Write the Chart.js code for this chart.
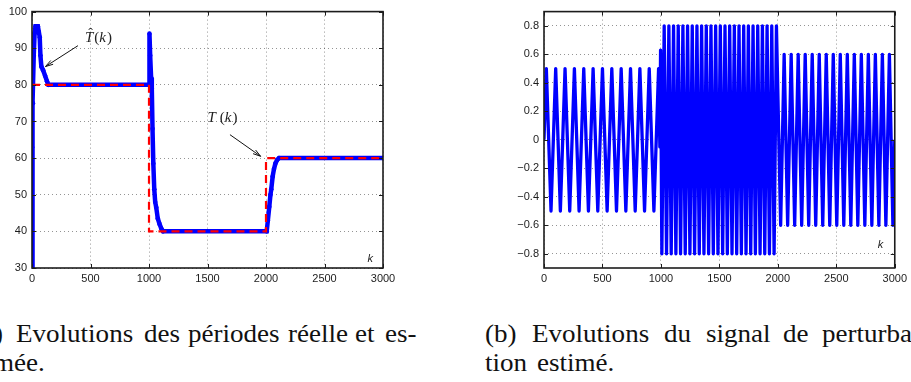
<!DOCTYPE html>
<html><head><meta charset="utf-8">
<script src="https://cdn.jsdelivr.net/npm/chart.js@4.4.1/dist/chart.umd.min.js"></script>
<style>
html,body{margin:0;padding:0;background:#fff;}
#page{position:relative;width:911px;height:382px;overflow:hidden;background:#fff;}
canvas{position:absolute;top:0;}
#ca{left:0;} #cb{left:500px;}
.w{position:absolute;font-family:"Liberation Serif","Times New Roman",serif;font-size:26px;line-height:26px;color:#111;white-space:nowrap;transform:scaleX(1.04);transform-origin:0 0;}
</style></head><body>
<div id="page">
<canvas id="ca" width="400" height="290"></canvas>
<canvas id="cb" width="411" height="290"></canvas>
</div>
<script>
// ---------------- data ----------------
const kTicks = [0, 500, 1000, 1500, 2000, 2500, 3000];
const periodTicks = [30, 40, 50, 60, 70, 80, 90, 100];
const perturbTicks = [-0.8, -0.6, -0.4, -0.2, 0, 0.2, 0.4, 0.6, 0.8];

// real period T(k)
const realK = [0, 1000, 1000, 2000, 2000, 3000];
const realT = [80, 80, 40, 40, 60, 60];

// estimated period T^(k)
const estK = [0, 1, 8, 15, 22, 30, 50, 58, 66, 72, 80, 95, 112, 128, 140,
  1000, 1004, 1010, 1018, 1024, 1030, 1037, 1045, 1053, 1062, 1075, 1090, 1105, 1120,
  2006, 2016, 2028, 2038, 2045, 2057, 2068, 2080, 2095, 2112, 3000];
const estT = [30, 63, 75, 88, 94, 96, 96, 94.5, 93, 88, 85, 84, 82.5, 81, 80,
  80, 94, 88, 82, 79, 68, 58.5, 51.5, 48, 46.5, 43.5, 42, 40.8, 40,
  40, 43, 46.7, 50, 51.5, 55, 57, 58.5, 59.5, 60, 60];

// estimated disturbance signal: extrema
const distK1 = [0, 20, 60, 100, 140, 180, 220, 260, 300, 340, 380, 420, 460, 500, 540, 580, 620, 660, 700, 740, 780, 820, 860, 900, 940, 980, 991, 997];
const distV1 = [0, 0.5, -0.5, 0.5, -0.5, 0.5, -0.5, 0.5, -0.5, 0.5, -0.5, 0.5, -0.5, 0.5, -0.5, 0.5, -0.5, 0.5, -0.5, 0.5, -0.5, 0.5, -0.5, 0.5, -0.5, 0.5, -0.05, 0.63];
const distK2 = [1008, 1028, 1048, 1068, 1088, 1108, 1128, 1148, 1168, 1188, 1208, 1228, 1248, 1268, 1288, 1308, 1328, 1348, 1368, 1388, 1408, 1428, 1448, 1468, 1488, 1508, 1528, 1548, 1568, 1588, 1608, 1628, 1648, 1668, 1688, 1708, 1728, 1748, 1768, 1788, 1808, 1828, 1848, 1868, 1888, 1908, 1928, 1948, 1968, 1988];
const distV2 = [-0.8, 0.8, -0.8, 0.8, -0.8, 0.8, -0.8, 0.8, -0.8, 0.8, -0.8, 0.8, -0.8, 0.8, -0.8, 0.8, -0.8, 0.8, -0.8, 0.8, -0.8, 0.8, -0.8, 0.8, -0.8, 0.8, -0.8, 0.8, -0.8, 0.8, -0.8, 0.8, -0.8, 0.8, -0.8, 0.8, -0.8, 0.8, -0.8, 0.8, -0.8, 0.8, -0.8, 0.8, -0.8, 0.8, -0.8, 0.8, -0.8, 0.8];
const distK3 = [2024, 2054, 2084, 2114, 2144, 2174, 2204, 2234, 2264, 2294, 2324, 2354, 2384, 2414, 2444, 2474, 2504, 2534, 2564, 2594, 2624, 2654, 2684, 2714, 2744, 2774, 2804, 2834, 2864, 2894, 2924, 2954, 2984, 3000];
const distV3 = [-0.6, 0.6, -0.6, 0.6, -0.6, 0.6, -0.6, 0.6, -0.6, 0.6, -0.6, 0.6, -0.6, 0.6, -0.6, 0.6, -0.6, 0.6, -0.6, 0.6, -0.6, 0.6, -0.6, 0.6, -0.6, 0.6, -0.6, 0.6, -0.6, 0.6, -0.6, 0.6, -0.6, 0];

// ---------------- helpers ----------------
const zip = (ks, vs) => ks.map((k, i) => ({x: k, y: vs[i]}));
const INK = '#1c1c1c';

function makeDecor(cfg) {
  return {
    id: 'decor',
    afterDatasetsDraw(chart) {
      const ctx = chart.ctx, a = chart.chartArea, xs = chart.scales.x, ys = chart.scales.y;
      ctx.save();
      const seg = (x1, y1, x2, y2) => { ctx.beginPath(); ctx.moveTo(x1, y1); ctx.lineTo(x2, y2); ctx.stroke(); };
      // inside ticks
      ctx.strokeStyle = INK; ctx.lineWidth = 1;
      const L = 4;
      xs.ticks.forEach(t => { const p = Math.round(xs.getPixelForValue(t.value)) + 0.5;
        seg(p, a.bottom, p, a.bottom - L); seg(p, a.top, p, a.top + L); });
      ys.ticks.forEach(t => { const p = Math.round(ys.getPixelForValue(t.value)) + 0.5;
        seg(a.left, p, a.left + L, p); seg(a.right, p, a.right - L, p); });
      // box
      ctx.lineWidth = 1.6;
      ctx.strokeRect(a.left, a.top, a.right - a.left, a.bottom - a.top);
      // arrows
      ctx.lineWidth = 1; ctx.strokeStyle = '#111';
      (cfg.arrows || []).forEach(ar => {
        const x1 = xs.getPixelForValue(ar.from[0]), y1 = ys.getPixelForValue(ar.from[1]);
        const x2 = xs.getPixelForValue(ar.to[0]), y2 = ys.getPixelForValue(ar.to[1]);
        seg(x1, y1, x2, y2);
        const ang = Math.atan2(y2 - y1, x2 - x1), h = 8, s = 0.28;
        ctx.beginPath();
        ctx.moveTo(x2 - h * Math.cos(ang - s), y2 - h * Math.sin(ang - s));
        ctx.lineTo(x2, y2);
        ctx.lineTo(x2 - h * Math.cos(ang + s), y2 - h * Math.sin(ang + s));
        ctx.stroke();
      });
      // math labels
      (cfg.labels || []).forEach(lb => {
        let x = xs.getPixelForValue(lb.at[0]);
        const y = ys.getPixelForValue(lb.at[1]);
        ctx.fillStyle = '#222'; ctx.textBaseline = 'alphabetic'; ctx.textAlign = 'left';
        lb.parts.forEach(p => {
          ctx.font = p.f;
          if (p.hat) {
            const wT = ctx.measureText(p.t).width;
            ctx.fillText(p.t, x, y);
            ctx.font = '14px "Liberation Serif"';
            const wh = ctx.measureText('\u02C6').width;
            ctx.fillText('\u02C6', x + wT / 2 - wh / 2 + 1.5, y - 3.5);
            x += wT + (p.gap || 0);
          } else {
            ctx.fillText(p.t, x, y);
            x += ctx.measureText(p.t).width + (p.gap || 0);
          }
        });
      });
      // axis variable label
      if (cfg.kLabel) {
        ctx.font = 'italic 11px "Liberation Sans"'; ctx.fillStyle = '#222';
        ctx.textAlign = 'center'; ctx.textBaseline = 'middle';
        ctx.fillText('k', xs.getPixelForValue(cfg.kLabel[0]), ys.getPixelForValue(cfg.kLabel[1]));
      }
      ctx.restore();
    }
  };
}

const MI = 'italic 15px "Liberation Serif"', MR = '15px "Liberation Serif"';

function axes(xTickList, yTickList, yW, fmt, yMin, yMax) {
  const gridCol = 'rgba(0,0,0,0.42)';
  return {
    x: { type: 'linear', min: 0, max: 3000,
      afterBuildTicks: s => { s.ticks = xTickList.map(v => ({value: v})); },
      afterFit: s => { s.height = 22; },
      grid: { color: gridCol, lineWidth: 1, drawTicks: false },
      border: { display: false, dash: [1, 3] },
      ticks: { font: { family: 'Liberation Sans', size: 11 }, color: INK, padding: 4, maxRotation: 0, autoSkip: false,
        callback: v => String(v) } },
    y: { type: 'linear', min: yMin, max: yMax,
      afterBuildTicks: s => { s.ticks = yTickList.map(v => ({value: v})); },
      afterFit: s => { s.width = yW; },
      grid: { color: gridCol, lineWidth: 1, drawTicks: false },
      border: { display: false, dash: [1, 3] },
      ticks: { font: { family: 'Liberation Sans', size: 11 }, color: INK, padding: 5, autoSkip: false, callback: fmt } }
  };
}

// ---------------- chart (a) ----------------
new Chart(document.getElementById('ca'), {
  type: 'line',
  data: { datasets: [
    { label: 'T(k)', data: zip(realK, realT), borderColor: '#ff0000', borderWidth: 2.2,
      borderDash: [8, 5], pointRadius: 0, tension: 0, fill: false },
    { label: 'T^(k)', data: zip(estK, estT), borderColor: '#0000ff', backgroundColor: '#0000ff',
      borderWidth: 4.5, pointRadius: 2.3, pointBorderWidth: 0, tension: 0, fill: false }
  ]},
  options: {
    responsive: false, animation: false,
    layout: { padding: { left: 0, top: 11, right: 17, bottom: 0 } },
    plugins: { legend: { display: false }, tooltip: { enabled: false } },
    scales: axes(kTicks, periodTicks, 32, v => String(v), 30, 100)
  },
  plugins: [makeDecor({
    arrows: [ { from: [393, 90.7], to: [115, 85.0] }, { from: [1692, 66.4], to: [1954, 60.5] } ],
    labels: [
      { at: [453, 91.8], parts: [ {t: 'T', f: MI, hat: true, gap: 1}, {t: '(', f: MR}, {t: 'k', f: MI, gap: 1}, {t: ')', f: MR} ] },
      { at: [1500, 69.8], parts: [ {t: 'T', f: MI, gap: 4}, {t: '(', f: MR}, {t: 'k', f: MI, gap: 1}, {t: ')', f: MR} ] }
    ],
    kLabel: [2890, 32.4]
  })]
});

// ---------------- chart (b) ----------------
const fmtB = v => v === 0 ? '0' : (v < 0 ? '\u2212' : '') + Math.abs(v).toFixed(1);
new Chart(document.getElementById('cb'), {
  type: 'line',
  data: { datasets: [
    { label: 'perturbation', data: zip(distK1.concat(distK2, distK3), distV1.concat(distV2, distV3)),
      borderColor: '#0000ff', borderWidth: 3.3, borderJoinStyle: 'round', pointRadius: 0, tension: 0, fill: false }
  ]},
  options: {
    responsive: false, animation: false,
    layout: { padding: { left: 0, top: 11, right: 15, bottom: 0 } },
    plugins: { legend: { display: false }, tooltip: { enabled: false } },
    scales: axes(kTicks, perturbTicks, 44, fmtB, -0.9, 0.9)
  },
  plugins: [makeDecor({ kLabel: [2879, -0.74] })]
});

// ---------------- captions ----------------
const captionWords = [
  ['(a)', -27, 1], ['Evolutions', 16, 1], ['des', 144, 1], ['p\u00e9riodes', 188, 1], ['r\u00e9elle', 288, 1], ['et', 355, 1], ['es-', 385, 1],
  ['tim\u00e9e.', -22, 2],
  ['(b)', 485, 1], ['Evolutions', 532, 1], ['du', 664, 1], ['signal', 706, 1], ['de', 783, 1], ['perturba-', 822, 1],
  ['tion', 485, 2], ['estim\u00e9.', 537, 2]
];
const lineTop = {1: 321, 2: 350};
const page = document.getElementById('page');
captionWords.forEach(([t, x, l]) => {
  const s = document.createElement('span');
  s.className = 'w'; s.textContent = t;
  s.style.left = x + 'px'; s.style.top = lineTop[l] + 'px';
  page.appendChild(s);
});
</script>
</body></html>
